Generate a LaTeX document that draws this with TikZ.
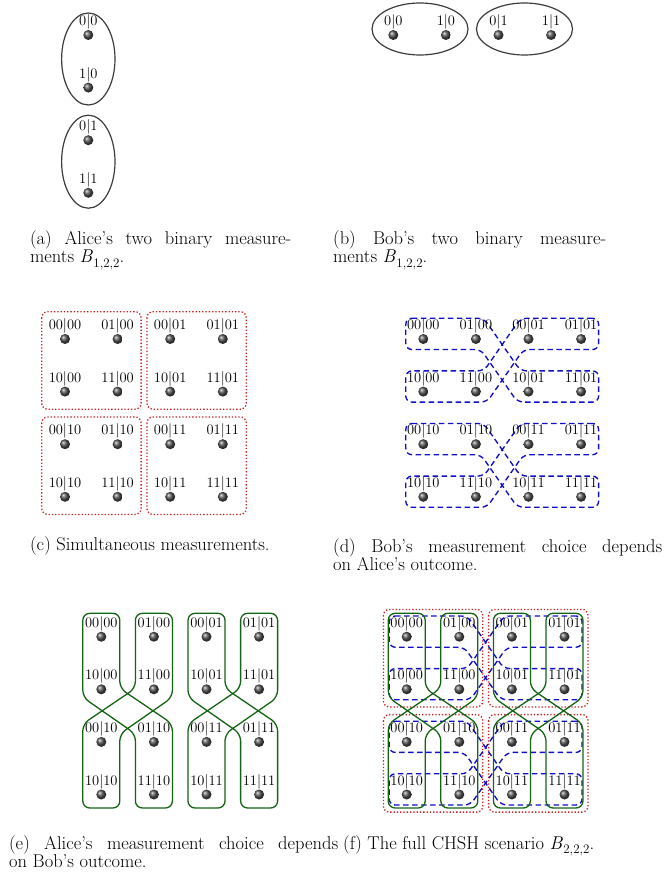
\documentclass[tikz,border=0pt]{standalone}
\usepackage{fontspec}
\usetikzlibrary{calc}

\definecolor{ringgray}{RGB}{60,60,60}
\definecolor{dotred}{RGB}{205,30,30}
\definecolor{dashblue}{RGB}{15,15,200}
\definecolor{bandgreen}{RGB}{20,100,20}

\tikzset{
  ball/.style={circle, minimum size=10pt, inner sep=0pt, shading=ball, ball color=black!68},
  lab/.style={anchor=base, inner sep=0pt, font=\fontsize{14.5}{14.5}\selectfont},
  captext/.style={anchor=base west, inner sep=0pt, font=\fontsize{18.5}{18.5}\selectfont},
  ring/.style={draw=ringgray, line width=1.2pt},
  simbox/.style={draw=dotred, line width=1.3pt, dotted, rounded corners=6pt},
  bobband/.style={draw=dashblue, line width=1.35pt, dash pattern=on 5.5pt off 3.5pt, rounded corners=6pt},
  aliceband/.style={draw=bandgreen, line width=1.3pt, rounded corners=7pt},
}

% B with a lowered index, set in text fonts
\newcommand\Bidx[1]{\textit{B}\kern0.02em\raisebox{-0.25em}{\fontsize{13}{13}\selectfont #1}}

% grid spacing between neighbouring outcomes
\def\gs{52.6}

% 4x4 grid of outcomes ab|xy, top-left ball at (#2,#3)
\newcommand\outcomegrid[3]{%
  \foreach \i in {0,...,3}{%
    \foreach \j in {0,...,3}{%
      \pgfmathtruncatemacro\oa{mod(\i,2)}%
      \pgfmathtruncatemacro\ob{mod(\j,2)}%
      \pgfmathtruncatemacro\ox{\i/2}%
      \pgfmathtruncatemacro\oy{\j/2}%
      \node[ball] (#1-\i-\j) at ({#2+\j*\gs},{#3+\i*\gs}) {};
      \node[lab] (#1-\i-\j-t) at ({#2+\j*\gs},{#3+\i*\gs-9.5}) {\oa\ob|\ox\oy};
    }%
  }%
}

% joint measurement blocks (red dotted)
\newcommand\simboxes[2]{%
  \foreach \p in {0,1}{\foreach \q in {0,1}{%
    \draw[simbox] ({#1+2*\p*\gs-23.3},{#2+2*\q*\gs-27.3}) rectangle
                  ({#1+(2*\p+1)*\gs+23.5},{#2+(2*\q+1)*\gs+17.6});
  }}%
}

% Bob's choice wired to Alice's outcome (blue dashed)
\newcommand\bobbands[2]{%
  \foreach \q in {0,1}{%
    \pgfmathsetmacro\Y{#2+2*\q*\gs}%
    \draw[bobband] ({#1-17.5},{\Y-20.7}) -- ({#1+\gs+8},{\Y-20.7})
      -- ({#1+2*\gs-8},{\Y+\gs-20.7}) -- ({#1+3*\gs+17.5},{\Y+\gs-20.7})
      -- ({#1+3*\gs+17.5},{\Y+\gs+10.5}) -- ({#1+2*\gs-11},{\Y+\gs+10.5})
      -- ({#1+\gs+5},{\Y+10.5}) -- ({#1-17.5},{\Y+10.5}) -- cycle;
    \draw[bobband] ({#1+3*\gs+17.5},{\Y-20.7}) -- ({#1+2*\gs-8},{\Y-20.7})
      -- ({#1+\gs+8},{\Y+\gs-20.7}) -- ({#1-17.5},{\Y+\gs-20.7})
      -- ({#1-17.5},{\Y+\gs+10.5}) -- ({#1+\gs+11},{\Y+\gs+10.5})
      -- ({#1+2*\gs-5},{\Y+10.5}) -- ({#1+3*\gs+17.5},{\Y+10.5}) -- cycle;
  }%
}

% Alice's choice wired to Bob's outcome (green)
\newcommand\alicebands[2]{%
  \foreach \p in {0,1}{%
    \pgfmathsetmacro\X{#1+2*\p*\gs}%
    \draw[aliceband] ({\X-18.5},{#2-23.4}) -- ({\X-18.5},{#2+\gs+8})
      -- ({\X+\gs-18.5},{#2+2*\gs-8}) -- ({\X+\gs-18.5},{#2+3*\gs+13.5})
      -- ({\X+\gs+18.5},{#2+3*\gs+13.5}) -- ({\X+\gs+18.5},{#2+2*\gs-18})
      -- ({\X+18.5},{#2+\gs-1}) -- ({\X+18.5},{#2-23.4}) -- cycle;
    \draw[aliceband] ({\X+\gs+18.5},{#2-23.4}) -- ({\X+\gs+18.5},{#2+\gs+8})
      -- ({\X+18.5},{#2+2*\gs-8}) -- ({\X+18.5},{#2+3*\gs+13.5})
      -- ({\X-18.5},{#2+3*\gs+13.5}) -- ({\X-18.5},{#2+2*\gs-18})
      -- ({\X+\gs-18.5},{#2+\gs-1}) -- ({\X+\gs-18.5},{#2-23.4}) -- cycle;
  }%
}

\begin{document}
\begin{tikzpicture}[x=1pt, y=-1pt]
\useasboundingbox (0,0) rectangle (664,877);

% (a) Alice: two binary measurements
\draw[ring] (88.3,59) ellipse [x radius=26.7, y radius=46];
\draw[ring] (88.3,161.7) ellipse [x radius=26.7, y radius=46.5];
\foreach \k/\t in {0/0|0, 1/1|0, 2/0|1, 3/1|1}{%
  \node[ball] (a-\k) at (88.3,{35+\k*\gs}) {};
  \node[lab] (a-\k-t) at (88.3,{35+\k*\gs-9.5}) {\t};
}

% (b) Bob: two binary measurements
\draw[ring] (420,29) ellipse [x radius=48, y radius=26];
\draw[ring] (524.5,29) ellipse [x radius=48, y radius=26];
\foreach \k/\t in {0/0|0, 1/1|0, 2/0|1, 3/1|1}{%
  \node[ball] (b-\k) at ({393.3+\k*\gs},35) {};
  \node[lab] (b-\k-t) at ({393.3+\k*\gs},25.5) {\t};
}

% (c) simultaneous measurements
\simboxes{65}{339}
\outcomegrid{c}{65}{339}

% (d) Bob depends on Alice
\bobbands{423.3}{339}
\outcomegrid{d}{423.3}{339}

% (e) Alice depends on Bob
\alicebands{101.3}{636.7}
\outcomegrid{e}{101.3}{636.7}

% (f) full CHSH scenario
\simboxes{406.7}{636.7}
\bobbands{406.7}{636.7}
\alicebands{406.7}{636.7}
\outcomegrid{f}{406.7}{636.7}

% captions
\node[captext] (capa1) at (30,244) {\makebox[261pt][s]{(a) Alice's two binary measure-}};
\node[captext] (capa2) at (30,262.5) {ments \Bidx{1,2,2}.};
\node[captext] (capb1) at (333,244) {\makebox[273pt][s]{(b) Bob's two binary measure-}};
\node[captext] (capb2) at (333,262.5) {ments \Bidx{1,2,2}.};
\node[captext] (capc) at (30,550) {(c) Simultaneous measurements.};
\node[captext] (capd1) at (333,552) {\makebox[329pt][s]{(d) Bob's measurement choice depends}};
\node[captext] (capd2) at (333,570.5) {on Alice's outcome.};
\node[captext] (cape1) at (9,849) {\makebox[329pt][s]{(e) Alice's measurement choice depends}};
\node[captext] (cape2) at (9,867.5) {on Bob's outcome.};
\node[captext] (capf) at (343,849) {(f) The full CHSH scenario \Bidx{2,2,2}.};
\end{tikzpicture}
\end{document}
